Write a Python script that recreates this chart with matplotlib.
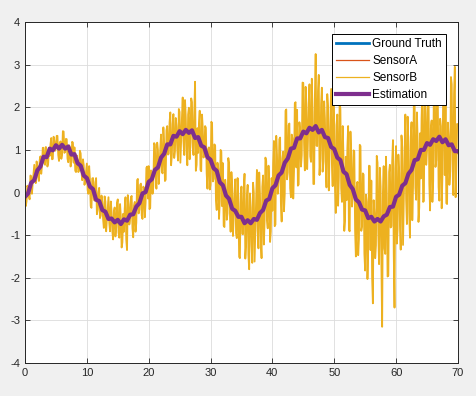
import matplotlib
matplotlib.use('Agg')
import matplotlib.pyplot as plt
import numpy as np

# time axes for each series
t_truth = np.arange(0, 71, 1.0)
t_est = np.arange(0, 70.5, 0.5)
t_b = np.arange(0, 70.25, 0.25)
t_b_mid = np.arange(0.125, 70, 0.25)

ground_truth = [
    -0.15, 0.20, 0.50, 0.78, 0.98, 1.08, 1.10, 1.02, 0.85, 0.60,
    0.32, 0.02, -0.25, -0.48, -0.63, -0.70, -0.68, -0.55, -0.35, -0.08,
    0.20, 0.50, 0.80, 1.07, 1.28, 1.41, 1.45, 1.40, 1.25, 1.03,
    0.75, 0.45, 0.12, -0.18, -0.45, -0.63, -0.70, -0.65, -0.50, -0.25,
    0.05, 0.37, 0.68, 0.97, 1.22, 1.40, 1.50, 1.50, 1.42, 1.25,
    1.00, 0.70, 0.38, 0.05, -0.25, -0.48, -0.62, -0.65, -0.58, -0.40,
    -0.15, 0.13, 0.42, 0.70, 0.95, 1.13, 1.23, 1.25, 1.20, 1.10,
    0.95,
]

sensor_a = [
    -0.10, 0.24, 0.46, 0.82, 0.95, 1.12, 1.06, 1.05, 0.81, 0.64,
    0.28, 0.06, -0.29, -0.44, -0.67, -0.66, -0.72, -0.51, -0.39, -0.04,
    0.16, 0.54, 0.76, 1.11, 1.24, 1.45, 1.41, 1.44, 1.21, 1.07,
    0.71, 0.49, 0.08, -0.14, -0.49, -0.59, -0.74, -0.61, -0.54, -0.21,
    0.01, 0.41, 0.64, 1.01, 1.18, 1.44, 1.46, 1.54, 1.38, 1.29,
    0.96, 0.74, 0.34, 0.09, -0.29, -0.44, -0.66, -0.61, -0.62, -0.36,
    -0.19, 0.17, 0.38, 0.74, 0.91, 1.17, 1.19, 1.29, 1.16, 1.14,
    0.91,
]

# SensorB samples at t = 0, 0.25, 0.5, ...
sensor_b = [
    -0.20, -0.21, 0.12, -0.16,   0.38, 0.22, 0.65, 0.22,
    0.62, 0.27, 0.85, 0.62,      1.05, 0.65, 0.94, 0.69,
    0.86, 1.28, 0.79, 1.21,      1.05, 1.33, 0.74, 1.20,
    0.89, 1.43, 0.96, 1.25,      0.71, 1.05, 0.76, 1.17,
    1.06, 0.48, 0.76, 0.52,      0.92, 0.29, 0.64, 0.32,
    0.68, -0.03, 0.31, -0.36,    0.34, -0.19, 0.34, -0.41,
    0.11, -0.54, -0.23, -0.83,   -0.21, -0.61, -0.11, -0.91,
    -0.45, -1.10, -0.35, -0.82,  -0.16, -1.06, -0.57, -1.17,
    -0.92, -0.11, -1.35, -0.28,  -0.61, -0.08, -1.05, -0.22,
    -0.71, 0.32, -0.40, 0.21,    -0.62, 0.11, -0.24, 0.61,
    0.62, -0.36, 0.42, 0.15,     1.13, 0.09, 1.00, 0.59,
    1.36, 0.45, 1.15, 0.30,      1.56, 0.91, 1.88, 0.88,
    1.84, 0.96, 1.56, 0.75,      1.89, 1.26, 2.23, 0.88,
    1.77, 0.64, 1.99, 1.17,      2.12, 0.88, 2.60, 0.65,
    0.93, 1.92, 0.50, 1.49,      0.95, 1.52, 0.09, 1.06,
    0.18, 1.63, 0.32, 1.10,      -0.41, 0.56, -0.19, 0.96,
    0.69, -0.81, 0.07, -0.49,    0.68, -0.92, 0.16, -0.57,
    0.31, -1.07, -0.26, -1.54,   0.14, -0.98, 0.44, -1.23,
    0.18, -1.80, -0.35, -1.65,   0.01, -0.83, 0.53, -1.31,
    -0.06, -1.54, 0.40, -0.64,   0.74, -0.84, 0.12, -0.91,
    -0.43, 1.21, -0.75, 0.89,    0.25, 1.29, -0.68, 0.96,
    -0.04, 1.95, 0.47, 1.62,     -0.11, 1.27, 0.50, 2.12,
    1.94, 0.19, 1.43, 0.88,      2.57, 0.52, 2.10, 1.22,
    2.54, 0.72, 1.89, 0.20,      3.25, 1.09, 2.76, 0.79,
    2.46, 0.73, 1.73, 0.12,      2.03, 0.93, 2.43, 0.15,
    1.56, -0.48, 1.83, 0.36,     1.96, -0.22, 0.82, -0.66,
    -0.18, 1.56, -0.91, 0.83,    -0.09, 0.96, -1.50, 0.25,
    -1.09, 1.09, -0.79, 0.42,    -1.83, -0.22, -1.30, 0.62,
    0.28, -2.60, -0.49, -1.24,   0.70, -1.68, 0.14, -3.15,
    0.62, -1.44, -0.04, -1.95,   0.65, -0.79, 1.23, -2.70,
    1.09, -0.86, 0.46, -1.34,    1.06, -0.11, 1.83, -0.74,
    1.04, -1.06, 1.65, 0.17,     2.10, -0.17, 1.14, -0.35,
    0.33, 2.39, -0.20, 1.86,     0.97, 2.28, -0.42, 1.69,
    0.27, 2.84, 0.76, 2.21,      -0.19, 1.56, 0.43, 2.49,
    2.16, -0.27, 1.31, 0.49,     2.54, -0.06, 2.95, 0.67,
    1.60,
]

# SensorB samples in between, at t = 0.125, 0.375, ...
sensor_b_mid = [
    -0.32, 0.16, -0.08, 0.40,    -0.03, 0.43, 0.30, 0.73,
    0.36, 0.76, 0.44, 1.05,      0.69, 1.07, 0.61, 1.05,
    1.14, 0.78, 1.31, 0.98,      1.33, 0.88, 1.16, 0.79,
    1.44, 0.93, 1.26, 0.79,      1.11, 0.61, 1.19, 0.70,
    0.51, 0.87, 0.48, 0.98,      0.50, 0.78, 0.18, 0.50,
    0.06, 0.62, -0.32, 0.33,     -0.15, 0.24, -0.51, 0.01,
    -0.60, -0.07, -0.62, -0.09,  -0.91, -0.36, -0.71, -0.21,
    -0.91, -0.44, -1.03, -0.24,  -0.94, -0.27, -1.29, -0.50,
    -0.37, -1.11, -0.06, -0.75,  -0.11, -0.84, -0.31, -0.92,
    0.29, -0.49, 0.18, -0.54,    0.14, -0.58, 0.58, -0.14,
    -0.39, 0.52, -0.03, 1.16,    0.40, 1.17, 0.20, 1.04,
    0.49, 1.53, 0.27, 1.46,      0.89, 1.64, 0.64, 1.61,
    0.81, 1.75, 1.01, 1.96,      0.70, 1.75, 1.20, 2.17,
    0.97, 1.83, 0.78, 2.21,      1.06, 1.90, 0.51, 1.51,
    1.62, 0.53, 1.83, 0.82,      1.56, 0.45, 1.02, 0.07,
    1.66, 0.26, 1.13, -0.18,     0.70, -0.62, 1.00, -0.32,
    -0.78, 0.30, -0.64, 0.81,    -0.41, 0.48, -1.02, -0.04,
    -0.95, 0.34, -1.51, -0.04,   -0.97, 0.11, -1.55, -0.14,
    -1.47, -0.02, -1.22, 0.23,   -1.62, -0.15, -0.89, 0.47,
    -1.13, 0.14, -1.22, 0.82,    -0.65, 0.63, -1.16, 0.34,
    0.69, -0.79, 1.33, -0.03,    1.25, -0.23, 0.80, -0.44,
    1.92, 0.31, 1.58, 0.10,      1.36, -0.14, 2.09, 0.59,
    0.16, 1.65, 0.61, 2.58,      1.15, 2.48, 0.55, 2.01,
    0.85, 2.67, 0.20, 2.28,      1.10, 2.38, 0.41, 2.08,
    0.49, 2.14, 0.66, 2.31,      0.05, 1.68, 0.70, 2.20,
    0.12, 1.59, -0.31, 2.14,     0.10, 1.56, -0.90, 0.84,
    1.04, -0.87, 1.43, -0.33,    0.99, -0.90, 0.14, -1.47,
    1.12, -0.90, 0.45, -1.43,    -0.05, -2.03, 0.63, -1.35,
    -1.98, -0.18, -1.54, 0.86,   -0.94, 0.58, -1.66, 0.01,
    -1.31, 0.84, -1.97, 0.48,    -0.82, 0.74, -1.44, 0.57,
    -1.20, 0.89, -0.75, 1.34,    -1.23, 0.86, -0.16, 1.78,
    -0.48, 1.30, -0.65, 2.22,    0.11, 1.88, -0.69, 1.39,
    1.75, -0.22, 2.46, 0.65,     2.26, 0.21, 1.51, -0.22,
    2.83, 0.60, 2.20, 0.13,      1.73, -0.37, 2.50, 0.41,
    -0.25, 1.64, 0.18, 2.71,     0.76, 2.32, -0.11, 1.61,
]

estimation = [
    -0.10, -0.02, 0.23, 0.29, 0.52, 0.61, 0.84, 0.83, 1.03, 0.99,
    1.11, 1.03, 1.12, 1.03, 1.08, 0.89, 0.90, 0.69, 0.63, 0.40,
    0.34, 0.14, 0.08, -0.17, -0.20, -0.41, -0.45, -0.62, -0.61, -0.70,
    -0.64, -0.74, -0.63, -0.66, -0.52, -0.51, -0.33, -0.25, -0.02, 0.01,
    0.25, 0.31, 0.53, 0.59, 0.82, 0.91, 1.13, 1.13, 1.33, 1.31,
    1.44, 1.37, 1.47, 1.40, 1.46, 1.28, 1.30, 1.10, 1.06, 0.83,
    0.77, 0.57, 0.51, 0.24, 0.17, -0.07, -0.15, -0.38, -0.43, -0.57,
    -0.57, -0.72, -0.65, -0.72, -0.62, -0.64, -0.48, -0.41, -0.19, -0.15,
    0.10, 0.17, 0.40, 0.47, 0.70, 0.80, 1.03, 1.05, 1.27, 1.27,
    1.43, 1.39, 1.52, 1.47, 1.56, 1.41, 1.47, 1.30, 1.28, 1.07,
    1.02, 0.82, 0.76, 0.49, 0.43, 0.18, 0.08, -0.16, -0.23, -0.40,
    -0.42, -0.60, -0.57, -0.68, -0.62, -0.68, -0.56, -0.52, -0.34, -0.33,
    -0.10, -0.05, 0.16, 0.22, 0.44, 0.53, 0.76, 0.78, 1.00, 1.00,
    1.16, 1.12, 1.25, 1.21, 1.31, 1.18, 1.25, 1.11, 1.13, 0.97,
    0.97,
]

plt.rcParams['font.family'] = ['Liberation Sans', 'DejaVu Sans']
plt.rcParams['axes.unicode_minus'] = False

# merge the two SensorB sample sets into one time-ordered series
tb_all = np.concatenate([t_b, t_b_mid])
yb_all = np.concatenate([sensor_b, sensor_b_mid])
order = np.argsort(tb_all)
tb_all, yb_all = tb_all[order], yb_all[order]

fig = plt.figure(figsize=(4.76, 3.96), dpi=100, facecolor='#f0f0f0')
ax = fig.add_axes([0.0525, 0.0833, 0.9095, 0.861])

ax.plot(t_truth, ground_truth, color='#0072BD', linewidth=2, label='Ground Truth')
ax.plot(t_truth, sensor_a, color='#D95319', linewidth=0.8, label='SensorA')
ax.plot(tb_all, yb_all, color='#EDB120', linewidth=1.3, label='SensorB')
ax.plot(t_est, estimation, color='#7E2F8E', linewidth=3, label='Estimation')

ax.set_xlim(0, 70)
ax.set_ylim(-4, 4)
ax.set_xticks(range(0, 71, 10))
ax.set_yticks(range(-4, 5))

ax.grid(True, color='#dcdcdc', linewidth=0.6)
ax.set_axisbelow(True)
ax.tick_params(direction='in', top=True, right=True, length=3.5, width=0.6,
               labelsize=8, colors='#262626')
for s in ax.spines.values():
    s.set_color('#262626')
    s.set_linewidth(0.7)

leg = ax.legend(loc='upper right', fontsize=8.5, fancybox=False, framealpha=1,
                edgecolor='black', handlelength=2.8, handletextpad=0.25,
                borderaxespad=1.0, borderpad=0.35, labelspacing=0.42)
leg.get_frame().set_linewidth(0.7)
# legend sample lines: thin for the sensors as in the original
for h in leg.get_lines()[1:3]:
    h.set_linewidth(0.9)

fig.savefig('out.png', dpi=100, facecolor=fig.get_facecolor())
